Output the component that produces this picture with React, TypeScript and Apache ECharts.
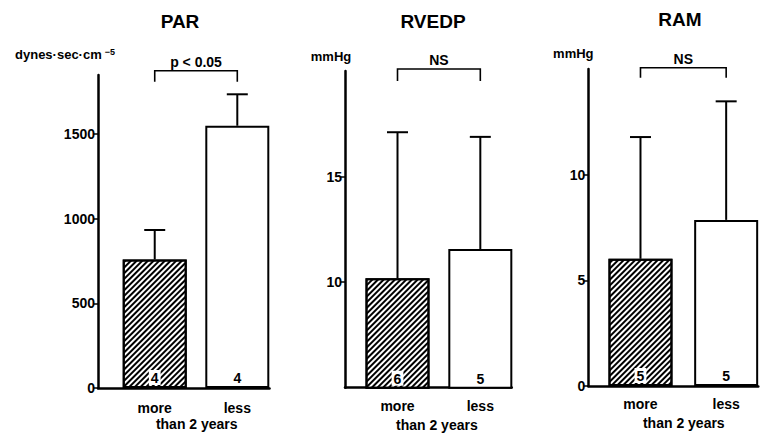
import React, { useEffect, useRef } from 'react';
import * as echarts from 'echarts';

// ---- data ----
const panelTitles = ['PAR', 'RVEDP', 'RAM'];
const categories = ['more', 'less'];
const groupLabel = 'than 2 years';
const unitLabels = ['dynes·sec·cm{sup|−5}', 'mmHg', 'mmHg'];
const parMeans = [760, 1550];
const parUpper = [934, 1736];
const rvedpMeans = [10.18, 11.57];
const rvedpUpper = [17.1, 16.88];
const ramMeans = [6.02, 7.86];
const ramUpper = [11.78, 13.47];
const parCounts = [4, 4];
const rvedpCounts = [6, 5];
const ramCounts = [5, 5];
const sigLabels = ['p < 0.05', 'NS', 'NS'];
const parTicks = [0, 500, 1000, 1500];
const rvedpTicks = [10, 15];
const ramTicks = [0, 5, 10];
const yMins = [0, 5, 0];
const yMaxs = [1850, 20, 15];

const meansAll = [parMeans, rvedpMeans, ramMeans];
const upperAll = [parUpper, rvedpUpper, ramUpper];
const countsAll = [parCounts, rvedpCounts, ramCounts];
const ticksAll = [parTicks, rvedpTicks, ramTicks];

// ---- layout (pixels) ----
const FONT = '"Liberation Sans", Arial, sans-serif';
const grids = [
  { left: 98, top: 75, width: 171.5, height: 313 },
  { left: 345, top: 71, width: 166.7, height: 316.7 },
  { left: 588.3, top: 69, width: 170, height: 317 },
];
const xRanges = [
  [-0.687, 1.39],
  [-0.634, 1.379],
  [-0.609, 1.375],
];
const titlePos = [
  { left: 180, top: 12 },
  { left: 433, top: 12 },
  { left: 680, top: 10 },
];
const unitGap = [13, 8, 9];
const unitPad = [66, 28, 30];
const catMargin = [13, 11, 11];
const nameGap = [29, 30, 30];
const namePadLeft = [26, 17, 21];
const bracketLift = [4.3, 2, 1.3];
const bracketDrop = [11, 12, 10];

const hatch = {
  symbol: 'rect',
  symbolSize: 1,
  dashArrayX: [1, 0],
  dashArrayY: [1.4, 1.4],
  rotation: -Math.PI / 4,
  color: '#000',
};

function buildOption() {
  const series: any[] = [];
  panelTitles.forEach((_, g) => {
    const means = meansAll[g];
    const upper = upperAll[g];
    const counts = countsAll[g];
    series.push({
      type: 'bar',
      xAxisIndex: g,
      yAxisIndex: g,
      barWidth: 64,
      z: 2,
      data: means.map((v, i) => ({
        value: [i, v],
        itemStyle: i === 0 ? { decal: hatch } : {},
      })),
      itemStyle: { color: '#fff', borderColor: '#000', borderWidth: 2 },
      label: {
        show: true,
        position: 'insideBottom',
        distance: 3,
        formatter: (p: any) => String(counts[p.dataIndex]),
        color: '#000',
        fontFamily: FONT,
        fontWeight: 'bold',
        fontSize: 14,
        backgroundColor: '#fff',
        padding: [1, 2, 0, 2],
      },
    });
    series.push({
      type: 'custom',
      xAxisIndex: g,
      yAxisIndex: g,
      z: 3,
      clip: false,
      encode: { x: 0, y: [1, 2] },
      data: means.map((v, i) => [i, v, upper[i]]),
      renderItem: (params: any, api: any) => {
        const p0 = api.coord([api.value(0), api.value(1)]);
        const p1 = api.coord([api.value(0), api.value(2)]);
        const cap = 21;
        return {
          type: 'group',
          children: [
            { type: 'line', shape: { x1: p0[0], y1: p0[1], x2: p1[0], y2: p1[1] }, style: { stroke: '#000', lineWidth: 2 } },
            { type: 'line', shape: { x1: p1[0] - cap / 2, y1: p1[1], x2: p1[0] + cap / 2, y2: p1[1] }, style: { stroke: '#000', lineWidth: 2 } },
          ],
        };
      },
    });
    series.push({
      type: 'custom',
      xAxisIndex: g,
      yAxisIndex: g,
      z: 3,
      clip: false,
      silent: true,
      encode: { x: 0, y: 1 },
      data: [[0, 1]],
      renderItem: (params: any, api: any) => {
        const a = api.coord([api.value(0), yMaxs[g]]);
        const b = api.coord([api.value(1), yMaxs[g]]);
        const y = a[1] - bracketLift[g];
        const d = bracketDrop[g];
        return {
          type: 'group',
          children: [
            {
              type: 'polyline',
              shape: { points: [[a[0], y + d], [a[0], y], [b[0], y], [b[0], y + d]] },
              style: { stroke: '#000', lineWidth: 1.6, fill: null },
            },
            {
              type: 'text',
              style: {
                text: sigLabels[g],
                x: (a[0] + b[0]) / 2,
                y: y - 9,
                align: 'center',
                verticalAlign: 'middle',
                font: `bold 14px ${FONT}`,
                fill: '#000',
              },
            },
          ],
        };
      },
    });
  });

  return {
    animation: false,
    backgroundColor: '#fff',
    title: panelTitles.map((t, g) => ({
      text: t,
      left: titlePos[g].left,
      top: titlePos[g].top,
      textAlign: 'center',
      padding: 0,
      textStyle: { fontFamily: FONT, fontWeight: 'bold', fontSize: 19, color: '#000' },
    })),
    grid: grids.map((gr) => ({ ...gr, containLabel: false, outerBoundsMode: 'none' })),
    xAxis: grids.map((_, g) => ({
      type: 'value',
      gridIndex: g,
      min: xRanges[g][0],
      max: xRanges[g][1],
      splitLine: { show: false },
      axisTick: { show: false },
      axisLine: { show: true, lineStyle: { color: '#000', width: 2.5 } },
      axisLabel: {
        customValues: [0, 1],
        formatter: (v: number) => categories[Math.round(v)] ?? '',
        margin: catMargin[g],
        color: '#000',
        fontFamily: FONT,
        fontWeight: 'bold',
        fontSize: 14,
      },
      name: groupLabel,
      nameLocation: 'middle',
      nameGap: nameGap[g],
      nameMoveOverlap: false,
      nameTextStyle: {
        color: '#000',
        fontFamily: FONT,
        fontWeight: 'bold',
        fontSize: 14,
        lineHeight: 14,
        padding: [0, 0, 0, namePadLeft[g]],
      },
    })),
    yAxis: grids.map((_, g) => ({
      type: 'value',
      gridIndex: g,
      min: yMins[g],
      max: yMaxs[g],
      splitLine: { show: false },
      axisLine: { show: true, onZero: false, lineStyle: { color: '#000', width: 2.5 } },
      axisTick: { show: true, customValues: ticksAll[g], length: 5, lineStyle: { color: '#000', width: 1.5 } },
      axisLabel: {
        customValues: ticksAll[g],
        formatter: (v: number) => String(v),
        margin: 3,
        color: '#000',
        fontFamily: FONT,
        fontWeight: 'bold',
        fontSize: 14,
      },
      name: unitLabels[g],
      nameLocation: 'end',
      nameGap: unitGap[g],
      nameMoveOverlap: false,
      nameTextStyle: {
        color: '#000',
        fontFamily: FONT,
        fontWeight: 'bold',
        fontSize: 13,
        align: 'center',
        padding: [0, unitPad[g], 0, 0],
        rich: {
          sup: { fontFamily: FONT, fontWeight: 'bold', fontSize: 9, verticalAlign: 'top', padding: [0, 0, 6, 3] },
        },
      },
    })),
    series,
  };
}

export default function App() {
  const ref = useRef<HTMLDivElement>(null);
  useEffect(() => {
    if (!ref.current) return;
    const chart = echarts.init(ref.current, null, { renderer: 'svg' });
    chart.setOption(buildOption() as any);
    return () => chart.dispose();
  }, []);
  return <div ref={ref} style={{ position: 'fixed', left: 0, top: 0, width: 760, height: 433 }} />;
}
